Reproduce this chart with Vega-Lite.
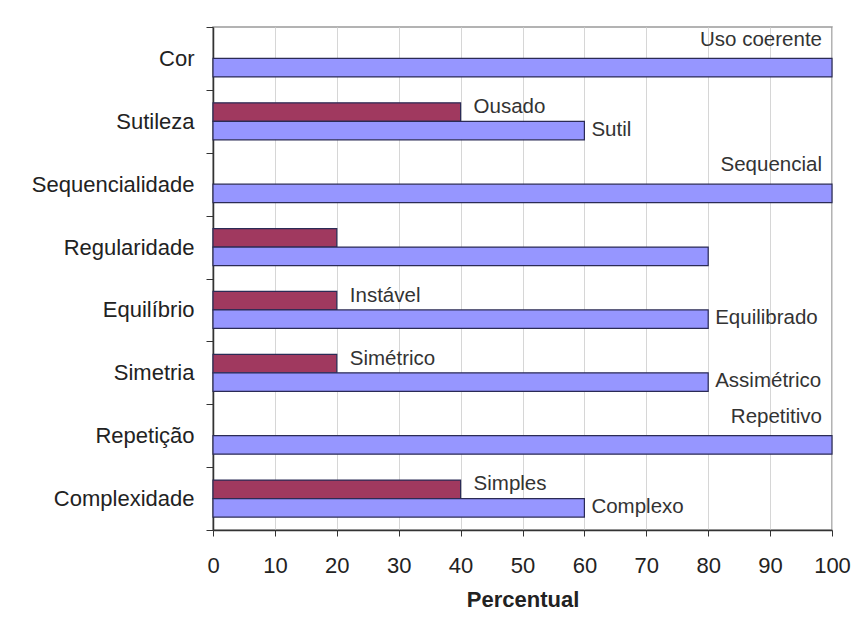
{
  "$schema": "https://vega.github.io/schema/vega-lite/v6.json",
  "width": 619,
  "height": 503,
  "autosize": "none",
  "padding": {"left": 213, "top": 27, "right": 25, "bottom": 112},
  "background": "white",
  "config": {
    "font": "Liberation Sans",
    "view": {"stroke": "#9a9a9a", "strokeWidth": 1.5},
    "axis": {"labelFont": "Liberation Sans", "titleFont": "Liberation Sans", "labelColor": "#222", "titleColor": "#222"}
  },
  "data": {
    "values": [
      {"categoria": "Cor", "serie": "alternativa", "valor": 0, "rotulo": ""},
      {"categoria": "Cor", "serie": "predominante", "valor": 100, "rotulo": "Uso coerente"},
      {"categoria": "Sutileza", "serie": "alternativa", "valor": 40, "rotulo": "Ousado"},
      {"categoria": "Sutileza", "serie": "predominante", "valor": 60, "rotulo": "Sutil"},
      {"categoria": "Sequencialidade", "serie": "alternativa", "valor": 0, "rotulo": ""},
      {"categoria": "Sequencialidade", "serie": "predominante", "valor": 100, "rotulo": "Sequencial"},
      {"categoria": "Regularidade", "serie": "alternativa", "valor": 20, "rotulo": ""},
      {"categoria": "Regularidade", "serie": "predominante", "valor": 80, "rotulo": ""},
      {"categoria": "Equilíbrio", "serie": "alternativa", "valor": 20, "rotulo": "Instável"},
      {"categoria": "Equilíbrio", "serie": "predominante", "valor": 80, "rotulo": "Equilibrado"},
      {"categoria": "Simetria", "serie": "alternativa", "valor": 20, "rotulo": "Simétrico"},
      {"categoria": "Simetria", "serie": "predominante", "valor": 80, "rotulo": "Assimétrico"},
      {"categoria": "Repetição", "serie": "alternativa", "valor": 0, "rotulo": ""},
      {"categoria": "Repetição", "serie": "predominante", "valor": 100, "rotulo": "Repetitivo"},
      {"categoria": "Complexidade", "serie": "alternativa", "valor": 40, "rotulo": "Simples"},
      {"categoria": "Complexidade", "serie": "predominante", "valor": 60, "rotulo": "Complexo"}
    ]
  },
  "encoding": {
    "y": {
      "field": "categoria",
      "type": "nominal",
      "sort": null,
      "scale": {"paddingInner": 0, "paddingOuter": 0},
      "axis": {
        "title": null,
        "tickBand": "extent",
        "tickSize": 7,
        "tickColor": "#333",
        "domainColor": "#333",
        "domainWidth": 1.5,
        "labelFontSize": 22,
        "labelPadding": 12,
        "grid": false
      }
    },
    "yOffset": {
      "field": "serie",
      "type": "nominal",
      "sort": ["alternativa", "predominante"],
      "scale": {"paddingInner": 0, "paddingOuter": 0.7}
    },
    "x": {
      "field": "valor",
      "type": "quantitative",
      "scale": {"domain": [0, 100], "nice": false},
      "axis": {
        "title": "Percentual",
        "values": [0, 10, 20, 30, 40, 50, 60, 70, 80, 90, 100],
        "grid": true,
        "gridColor": "#d6d6d6",
        "tickSize": 6,
        "tickColor": "#333",
        "domainColor": "#333",
        "domainWidth": 1.5,
        "labelFlush": false,
        "labelFontSize": 22,
        "labelPadding": 19,
        "titleFontSize": 22,
        "titleFontWeight": "bold",
        "titlePadding": 13
      }
    }
  },
  "layer": [
    {
      "transform": [{"filter": "datum.valor > 0"}],
      "mark": {"type": "bar", "stroke": "#2b2b55", "strokeWidth": 1.2},
      "encoding": {
        "color": {
          "field": "serie",
          "type": "nominal",
          "scale": {"domain": ["alternativa", "predominante"], "range": ["#a0395f", "#9696ff"]},
          "legend": null
        }
      }
    },
    {
      "transform": [{"filter": "datum.serie === 'alternativa' && datum.rotulo !== ''"}],
      "mark": {"type": "text", "align": "left", "baseline": "middle", "dx": 13, "dy": -5, "fontSize": 20.5, "color": "#333"},
      "encoding": {"text": {"field": "rotulo"}}
    },
    {
      "transform": [{"filter": "datum.serie === 'predominante' && datum.valor < 100 && datum.rotulo !== ''"}],
      "mark": {"type": "text", "align": "left", "baseline": "middle", "dx": 7, "dy": -1, "fontSize": 20.5, "color": "#333"},
      "encoding": {"text": {"field": "rotulo"}}
    },
    {
      "transform": [{"filter": "datum.serie === 'predominante' && datum.valor === 100"}],
      "mark": {"type": "text", "align": "right", "baseline": "middle", "dx": -10, "dy": -28, "fontSize": 20.5, "color": "#333"},
      "encoding": {"text": {"field": "rotulo"}}
    }
  ]
}
